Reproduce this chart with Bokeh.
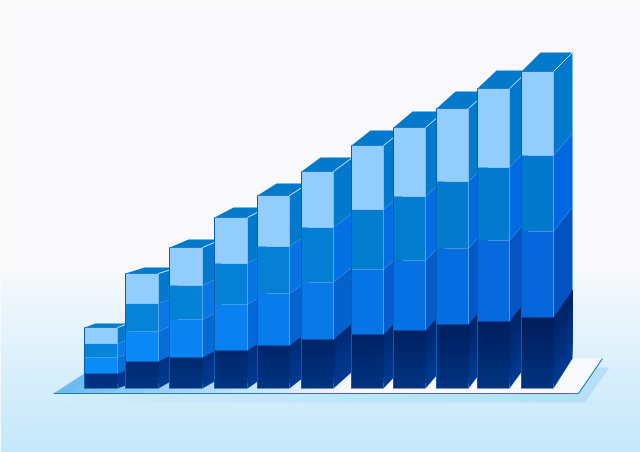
from bokeh.plotting import figure
from bokeh.embed import file_html
from bokeh.resources import INLINE

# Bars
bar_left  = [84, 125, 169, 214, 257, 301, 351, 393, 436, 477, 521]
bar_width = [33, 33, 33, 33, 32, 32, 32, 32, 32, 32, 32]
navy   = [15, 27, 31, 38, 43, 49, 54, 58, 64, 67, 71]
bright = [16, 30, 38, 46, 52, 57, 65, 70, 76, 81, 86]
mid    = [14, 28, 34, 41, 47, 55, 60, 64, 67, 73, 76]
pale   = [16, 30, 38, 46, 51, 56, 64, 69, 73, 79, 84]
depth_x   = [11, 19, 19, 19, 19, 19, 19, 19, 19, 19, 19]
depth_top = [4, 6, 8, 10, 12, 14, 15, 16, 17, 18, 19]
depth_low = [4, 11, 11, 13, 15, 17, 20, 22, 25, 26, 30]

floor_x = [53, 578, 602, 107]
floor_y = [-5, -5, 30, 30]

def hx(c):
    return tuple(int(c[i:i+2], 16) for i in (1, 3, 5))
def mix(a, b, t):
    a, b = hx(a), hx(b)
    t = max(0, min(1, t))
    return "#%02x%02x%02x" % tuple(round(a[i] + (b[i] - a[i]) * t) for i in range(3))

p = figure(width=640, height=452, x_range=(0, 640), y_range=(-64, 388),
           output_backend="svg", toolbar_location=None, min_border=0,
           outline_line_color=None)
p.axis.visible = False
p.grid.visible = False
p.background_fill_color = "#f9f9fb"
p.border_fill_color = "#f9f9fb"

stops = [(388, "#f9f9fb"), (118, "#f9f9fb"), (88, "#eef6fc"), (-10, "#d2edfb"), (-64, "#c4e8fa")]
def bg(y):
    for (y0, c0), (y1, c1) in zip(stops, stops[1:]):
        if y <= y0 and y >= y1:
            return mix(c0, c1, (y0 - y) / (y0 - y1))
    return stops[-1][1]
ys = list(range(-64, 124, 4))
p.quad(left=0, right=640, bottom=ys, top=[y + 4.5 for y in ys],
       fill_color=[bg(y) for y in ys], line_color=None)

xs_all, ys_all, cols = [], [], []
def poly(x, y, c):
    xs_all.append(x); ys_all.append(y); cols.append(c)

# shadow, fades to the left
n = 36
for i in range(n):
    t0, t1 = i / n, (i + 1.15) / n
    x0 = 60 + (585 - 60) * t0
    x1 = 60 + (585 - 60) * t1
    poly([x0 - 3, x1 - 3, x1 + 22, x0 + 22], [-14, -14, 21, 21],
         mix("#d3eefb", "#b6dff7", (i / n) ** 0.6))
# floor, blue on the left to white on the right
for i in range(n):
    t0, t1 = i / n, min(1, (i + 1.15) / n)
    a0 = floor_x[0] + (floor_x[1] - floor_x[0]) * t0
    a1 = floor_x[0] + (floor_x[1] - floor_x[0]) * t1
    b0 = floor_x[3] + (floor_x[2] - floor_x[3]) * t0
    b1 = floor_x[3] + (floor_x[2] - floor_x[3]) * t1
    c = mix("#6cbcef", "#f8fafd", (i / n) / 0.55) if i / n < 0.55 else "#f8fafd"
    poly([a0, a1, b1, b0], [-5, -5, 30, 30], c)
p.patches(xs_all[:], ys_all[:], fill_color=cols[:], line_color=None)
xs_all.clear(); ys_all.clear(); cols.clear()
p.line(floor_x[:3], floor_y[:3], line_color="#1f7fae", line_width=1.2)

def side(i, y0, y1, c):
    total = navy[i] + bright[i] + mid[i] + pale[i]
    d = lambda y: depth_low[i] + (depth_top[i] - depth_low[i]) * y / total
    xr = bar_left[i] + bar_width[i]
    dx = depth_x[i]
    poly([xr, xr + dx, xr + dx, xr], [y0, y0 + d(y0), y1 + d(y1), y1], c)

for i in range(len(bar_left)):
    xl = bar_left[i]; xr = xl + bar_width[i]; dx = depth_x[i]
    a = navy[i]; b = a + bright[i]; c = b + mid[i]; t = c + pale[i]
    u = i / (len(bar_left) - 1)
    steps = max(3, a // 5)
    # side faces: each band is painted up to the segment top so no seams show
    for s in range(steps):
        side(i, a * s / steps, a, mix("#003d99", "#002468", (a * s / steps + 10) / 70))
    side(i, a, b, mix("#0670d8", "#0452c0", u))
    side(i, b, c, mix("#0a7ae6", "#0067e0", u))
    side(i, c, t, "#0379ce")
    # top
    poly([xl, xr, xr + dx, xl + dx], [t, t, t + depth_top[i], t + depth_top[i]], "#0379cc")
    # front
    for s in range(steps):
        y0 = a * s / steps
        poly([xl, xr, xr, xl], [y0, y0, a, a], mix("#00337f", "#001c5a", y0 / 70))
    poly([xl, xr, xr, xl], [a, a, b, b], mix("#0a8cf8", "#0565da", u))
    poly([xl, xr, xr, xl], [b, b, c, c], mix("#0684d8", "#0379cd", u))
    poly([xl, xr, xr, xl], [c, c, t, t], "#92cdfe")

    p.patches(xs_all[:], ys_all[:], fill_color=cols[:], line_color=None)
    xs_all.clear(); ys_all.clear(); cols.clear()
    p.line([xl, xl], [0, t], line_color="#0560b4", line_width=1)
    p.line([xl, xr], [t, t], line_color="#0a6cc0", line_width=0.8)
    p.line([xr, xr], [a, t], line_color="#66b8f6", line_width=0.8, line_alpha=0.55)
    p.line([xr, xr + dx], [t, t + depth_top[i]], line_color="#c6e4fd", line_width=1)

open("out.html", "w").write(file_html(p, INLINE))
